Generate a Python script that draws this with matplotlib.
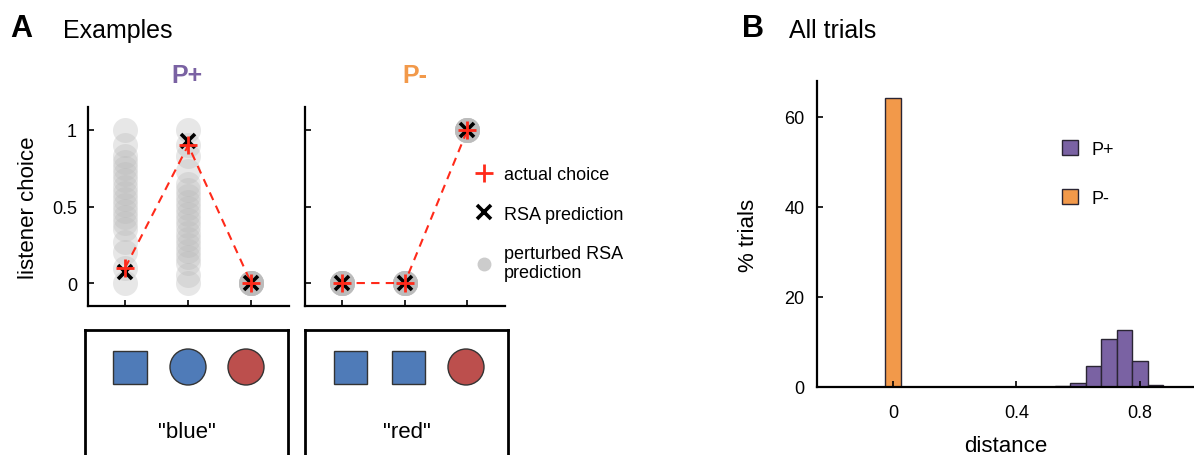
import numpy as np
import matplotlib
matplotlib.use("Agg")
import matplotlib.pyplot as plt
from matplotlib.lines import Line2D
import matplotlib.patches as mpatches

plt.rcParams['font.family'] = ['Liberation Sans', 'DejaVu Sans']

# ---------------- data ----------------
options = [1, 2, 3]
purple = "#7a62a3"
orange = "#f2994a"

# panel A, P+ example
pplus_actual = [0.10, 0.90, 0.0]
pplus_rsa = [0.07, 0.93, 0.0]
pplus_perturbed = {
    1: [0.0, 0.10, 0.20, 0.27, 0.35, 0.39, 0.43, 0.47, 0.51, 0.55, 0.59, 0.63,
        0.67, 0.71, 0.75, 0.79, 0.83, 0.90, 1.0],
    2: [1.0, 0.90, 0.83, 0.73, 0.65, 0.61, 0.57, 0.53, 0.49, 0.45, 0.41, 0.37,
        0.33, 0.29, 0.25, 0.21, 0.17, 0.13, 0.05, 0.0],
    3: [0.0] * 8,
}
# panel A, P- example
pminus_actual = [0.0, 0.0, 1.0]
pminus_rsa = [0.0, 0.0, 1.0]
pminus_perturbed = {1: [0.0] * 8, 2: [0.0] * 8, 3: [1.0] * 8}

# contexts shown under the examples
context_shapes = [["square", "circle", "circle"], ["square", "square", "circle"]]
context_colors = [["#4f7bb8", "#4f7bb8", "#bc4f4d"], ["#4f7bb8", "#4f7bb8", "#bc4f4d"]]
utterances = ['"blue"', '"red"']

# panel B histogram (% trials)
bin_width = 0.05
pminus_centers = [0.0]
pminus_pct = [64.3]
pplus_centers = [0.55, 0.60, 0.65, 0.70, 0.75, 0.80, 0.85]
pplus_pct = [0.2, 1.0, 4.6, 10.6, 12.6, 5.7, 0.4]

# ---------------- figure ----------------
W, H = 1194, 456
fig = plt.figure(figsize=(W / 100, H / 100), dpi=100)


def px_axes(left, top, right, bottom):
    return fig.add_axes([left / W, (H - bottom) / H, (right - left) / W, (bottom - top) / H])


def style(ax):
    for s in ["top", "right"]:
        ax.spines[s].set_visible(False)
    for s in ["left", "bottom"]:
        ax.spines[s].set_linewidth(1.6)
    ax.tick_params(direction="in", length=4, width=1.2, labelsize=13, pad=8)


axA1 = px_axes(88, 108, 289, 307)
axA2 = px_axes(305, 108, 505, 307)

for ax, actual, rsa, pert, title, tcol, tx in [
        (axA1, pplus_actual, pplus_rsa, pplus_perturbed, "P+", purple, 0.49),
        (axA2, pminus_actual, pminus_rsa, pminus_perturbed, "P-", orange, 0.55)]:
    style(ax)
    for opt in options:
        vals = pert[opt]
        ax.plot([opt] * len(vals), vals, "o", ms=18, mew=0, color="#bbbbbb", alpha=0.35, zorder=1)
    ax.plot(options, actual, color="#ff2a1a", lw=1.5, dashes=(4, 3), zorder=2)
    ax.plot(options, rsa, "x", ms=10, mew=2.6, color="black", zorder=3)
    ax.plot(options, actual, "+", ms=13, mew=2.0, color="#ff2a1a", zorder=4)
    ax.set_xlim(0.41, 3.6)
    ax.set_ylim(-0.15, 1.15)
    ax.set_xticks(options)
    ax.set_xticklabels([])
    ax.set_yticks([0, 0.5, 1])
    ax.text(tx, 1.16, title, transform=ax.transAxes, ha="center", va="center",
            fontsize=18, fontweight="bold", color=tcol)

axA1.set_yticklabels(["0", "0.5", "1"])
axA2.set_yticklabels([])
axA1.set_ylabel("listener choice", fontsize=16, labelpad=9)

handles = [Line2D([], [], ls="none", marker="+", ms=13, mew=2.0, color="#ff2a1a"),
           Line2D([], [], ls="none", marker="x", ms=10, mew=2.6, color="black"),
           Line2D([], [], ls="none", marker="o", ms=10, mew=0, color="#cccccc")]
leg = fig.legend(handles, ["actual choice", "RSA prediction", "perturbed RSA\nprediction"],
                 loc="upper left", bbox_to_anchor=(468 / W, (H - 160) / H), frameon=False,
                 fontsize=13, handlelength=1.0, handletextpad=0.6, labelspacing=1.25,
                 borderaxespad=0)
leg.get_texts()[2].set_linespacing(1.15)

# context boxes
for i, (left, right) in enumerate([(85, 288), (305, 508)]):
    bx = px_axes(left, 331, right, 470)
    bx.set_xlim(0, right - left)
    bx.set_ylim(0, 139)
    bx.set_xticks([])
    bx.set_yticks([])
    for s in bx.spines.values():
        s.set_linewidth(2)
    for j, (shape, col) in enumerate(zip(context_shapes[i], context_colors[i])):
        cx = 45 + 58 * j
        cy = 102
        if shape == "square":
            p = mpatches.Rectangle((cx - 16.5, cy - 16.5), 33, 33, fc=col, ec="#333333", lw=1)
        else:
            p = mpatches.Ellipse((cx, cy), 36, 36, fc=col, ec="#333333", lw=1)
        bx.add_patch(p)
    bx.text((right - left) / 2, 37, utterances[i], ha="center", va="center", fontsize=16)

# panel B
axB = px_axes(817, 82, 1194, 388)
style(axB)
axB.bar(pplus_centers, pplus_pct, width=bin_width, color=purple, edgecolor="#2a2533", lw=1, label="P+")
axB.bar(pminus_centers, pminus_pct, width=bin_width, color=orange, edgecolor="#2a2533", lw=1, label="P-")
axB.set_xlim(-0.246, 0.975)
axB.set_ylim(0, 68)
axB.set_xticks([0, 0.4, 0.8])
axB.set_xticklabels(["0", "0.4", "0.8"])
axB.set_yticks([0, 20, 40, 60])
axB.tick_params(axis="x", pad=12)
axB.tick_params(axis="y", pad=9)
axB.set_ylabel("% trials", fontsize=16, labelpad=18)
axB.set_xlabel("distance", fontsize=16, labelpad=10)
axB.legend(loc="upper left", bbox_to_anchor=(1055 / W, (H - 134) / H), bbox_transform=fig.transFigure,
           frameon=False, fontsize=13, handlelength=0.9, handleheight=0.9, handletextpad=0.7,
           labelspacing=1.72, borderaxespad=0)

# panel labels
fig.text(10 / W, (H - 29) / H, "A", fontsize=22, fontweight="bold", va="center")
fig.text(63 / W, (H - 31) / H, "Examples", fontsize=18, va="center")
fig.text(742 / W, (H - 29) / H, "B", fontsize=22, fontweight="bold", va="center")
fig.text(789 / W, (H - 31) / H, "All trials", fontsize=18, va="center")

fig.savefig("out.png", dpi=100)
